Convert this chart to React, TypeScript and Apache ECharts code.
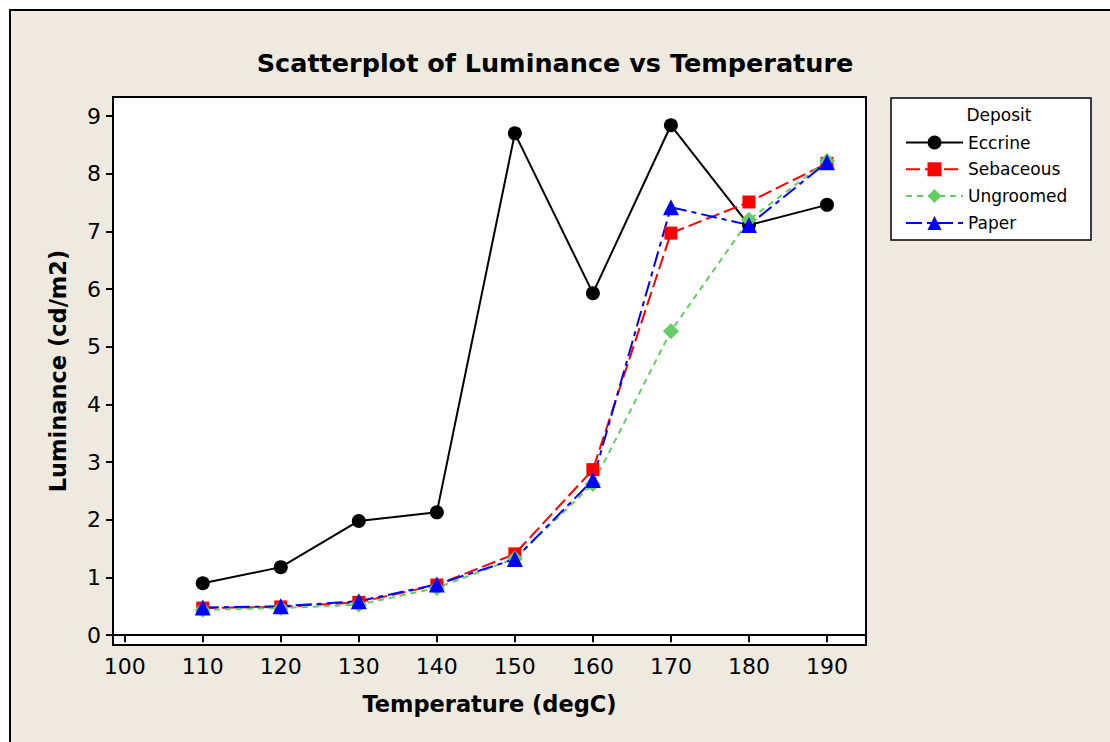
import React, { useEffect, useRef } from "react";
import * as echarts from "echarts";

const temperatures = [110, 120, 130, 140, 150, 160, 170, 180, 190];
const eccrine = [0.9, 1.18, 1.98, 2.13, 8.7, 5.93, 8.84, 7.11, 7.46];
const sebaceous = [0.47, 0.49, 0.57, 0.87, 1.41, 2.87, 6.97, 7.51, 8.18];
const ungroomed = [0.44, 0.47, 0.53, 0.82, 1.33, 2.62, 5.27, 7.2, 8.22];
const paper = [0.48, 0.5, 0.59, 0.88, 1.32, 2.69, 7.42, 7.11, 8.2];
const xTicks = [100, 110, 120, 130, 140, 150, 160, 170, 180, 190];
const yTicks = [0, 1, 2, 3, 4, 5, 6, 7, 8, 9];

const FONT = "DejaVu Sans";

function pairs(vals: number[]) {
  return temperatures.map((t, i) => [t, vals[i]]);
}

export default function App() {
  const ref = useRef<HTMLDivElement>(null);
  useEffect(() => {
    if (!ref.current) return;
    const chart = echarts.init(ref.current, undefined, { renderer: "svg" });
    chart.setOption({
      animation: false,
      backgroundColor: "#EEEAE0",
      textStyle: { fontFamily: FONT },
      title: {
        text: "Scatterplot of Luminance vs Temperature",
        left: "center",
        top: 45,
        textStyle: { fontFamily: FONT, fontSize: 25.5, fontWeight: "bold", color: "#000" },
      },
      graphic: [
        { type: "rect", shape: { x: 0, y: 0, width: 1110, height: 9 }, style: { fill: "#ffffff" }, silent: true },
        { type: "rect", shape: { x: 0, y: 0, width: 9, height: 742 }, style: { fill: "#ffffff" }, silent: true },
        {
          type: "polyline",
          shape: { points: [[10, 760], [10, 10], [1120, 10]] },
          style: { stroke: "#000", lineWidth: 2, fill: "none" },
          silent: true,
        },
        {
          type: "rect",
          z: 1,
          shape: { x: 891, y: 98, width: 200, height: 142 },
          style: { fill: "#ffffff", stroke: "#000", lineWidth: 1.5 },
          silent: true,
        },
        {
          type: "text",
          z: 2,
          x: 999,
          y: 115,
          style: { text: "Deposit", fill: "#000", font: `17px "${FONT}"`, align: "center", verticalAlign: "middle" },
          silent: true,
        },
      ],
      legend: {
        orient: "vertical",
        left: 900,
        top: 129,
        itemWidth: 57,
        itemHeight: 17.5,
        itemGap: 9.8,
        textStyle: { fontFamily: FONT, fontSize: 17, color: "#000" },
        data: ["Eccrine", "Sebaceous", "Ungroomed", "Paper"],
      },
      grid: {
        left: 113,
        top: 97,
        right: 244,
        bottom: 97,
        show: true,
        backgroundColor: "#ffffff",
        borderColor: "#000",
        borderWidth: 2,
      },
      xAxis: {
        type: "value",
        min: 98.5,
        max: 195,
        name: "Temperature (degC)",
        nameLocation: "middle",
        nameGap: 47,
        nameTextStyle: { fontFamily: FONT, fontSize: 22.5, fontWeight: "bold", color: "#000" },
        axisLine: { show: true, lineStyle: { color: "#000", width: 2 } },
        axisTick: { show: true, customValues: xTicks, length: 7, lineStyle: { color: "#000", width: 2 } },
        axisLabel: { customValues: xTicks, margin: 10, fontFamily: FONT, fontSize: 22, color: "#000" },
        splitLine: { show: false },
      },
      yAxis: {
        type: "value",
        min: -0.17,
        max: 9.33,
        name: "Luminance (cd/m2)",
        nameLocation: "middle",
        nameGap: 44,
        nameTextStyle: { fontFamily: FONT, fontSize: 22.5, fontWeight: "bold", color: "#000" },
        axisLine: { show: true, lineStyle: { color: "#000", width: 2 } },
        axisTick: { show: true, customValues: yTicks, length: 7, lineStyle: { color: "#000", width: 2 } },
        axisLabel: { customValues: yTicks, margin: 12, fontFamily: FONT, fontSize: 22, color: "#000" },
        splitLine: { show: false },
      },
      series: [
        {
          name: "Eccrine",
          type: "line",
          data: pairs(eccrine),
          symbol: "circle",
          symbolSize: 14,
          itemStyle: { color: "#000000" },
          lineStyle: { color: "#000000", width: 2, type: "solid" },
        },
        {
          name: "Sebaceous",
          type: "line",
          data: pairs(sebaceous),
          symbol: "rect",
          symbolSize: 13,
          itemStyle: { color: "#FF0000" },
          lineStyle: { color: "#FF0000", width: 2, type: [14, 5] },
        },
        {
          name: "Ungroomed",
          type: "line",
          data: pairs(ungroomed),
          symbol: "diamond",
          symbolSize: 16,
          itemStyle: { color: "#66CC66" },
          lineStyle: { color: "#66CC66", width: 2, type: [6, 5] },
        },
        {
          name: "Paper",
          type: "line",
          data: pairs(paper),
          symbol: "triangle",
          symbolSize: 16,
          itemStyle: { color: "#0000FF" },
          lineStyle: { color: "#0000FF", width: 2, type: [16, 5, 5, 5] },
        },
      ],
    });
    return () => chart.dispose();
  }, []);
  return (
    <div
      ref={ref}
      style={{ position: "fixed", left: 0, top: 0, width: 1110, height: 742 }}
    />
  );
}
